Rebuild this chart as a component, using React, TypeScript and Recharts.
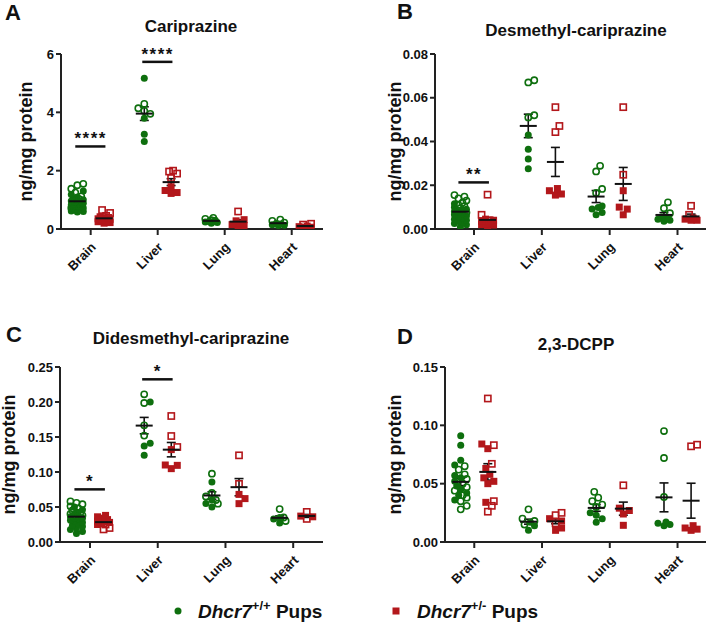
import React from "react";
import { ScatterChart, Scatter, XAxis, YAxis, ErrorBar, ReferenceLine, ReferenceDot } from "recharts";

const tissues = ["Brain", "Liver", "Lung", "Heart"];
const GREEN = "#0e6f0e";
const RED = "#b3171b";
const INK = "#111";
const FONT = "'Liberation Sans', Arial, Helvetica, sans-serif";

// A - Cariprazine (ng/mg protein), one list per tissue
const cariWtFilled = [
  [1.3, 1.18, 1.1, 1.05, 1.0, 0.96, 0.92, 0.88, 0.85, 0.82, 0.78, 0.75, 0.72, 0.68, 0.65, 0.62, 0.6, 0.58],
  [5.17, 3.8, 3.25, 3.0],
  [0.3, 0.27, 0.25, 0.24, 0.22, 0.2],
  [0.2, 0.17, 0.15, 0.13, 0.12],
];
const cariWtOpen = [
  [1.55, 1.5, 1.38, 1.25, 1.12, 1.02, 0.95, 0.88, 0.8, 0.72],
  [4.29, 4.14, 4.05, 3.95],
  [0.38, 0.35, 0.3],
  [0.32, 0.28, 0.22],
];
const cariHetFilled = [
  [0.42, 0.38, 0.35, 0.33, 0.3, 0.28, 0.25, 0.22, 0.2],
  [1.45, 1.32, 1.25, 1.22],
  [0.32, 0.28, 0.2, 0.15, 0.12, 0.1],
  [0.1, 0.08, 0.06, 0.05],
];
const cariHetOpen = [
  [0.65, 0.55, 0.45, 0.38],
  [2.0, 1.97, 1.9, 1.75],
  [0.6],
  [0.18, 0.15],
];
const cariTicks = [0, 2, 4, 6];
const cariSig = [
  { tissue: 1, y: 2.83, stars: "****" },
  { tissue: 2, y: 5.73, stars: "****" },
];

// B - Desmethyl-cariprazine
const desWtFilled = [
  [0.0115, 0.01, 0.009, 0.0085, 0.008, 0.0075, 0.007, 0.0065, 0.006, 0.0055, 0.005, 0.0045, 0.004, 0.0035, 0.003, 0.0025, 0.002, 0.001],
  [0.043, 0.0365, 0.032, 0.0275],
  [0.0105, 0.0098, 0.0092, 0.0075, 0.0065],
  [0.0055, 0.005, 0.0045, 0.004, 0.0035],
];
const desWtOpen = [
  [0.0155, 0.0148, 0.014, 0.013, 0.012, 0.011, 0.0105, 0.0095, 0.0085, 0.0075],
  [0.068, 0.067, 0.052, 0.051],
  [0.0289, 0.0263, 0.0183, 0.0165],
  [0.0122, 0.0095, 0.0072],
];
const desHetFilled = [
  [0.0045, 0.004, 0.0035, 0.003, 0.0028, 0.0025, 0.0022, 0.002, 0.0018, 0.0015],
  [0.0185, 0.0175, 0.016, 0.0155],
  [0.0175, 0.01, 0.0091, 0.0065],
  [0.005, 0.0045, 0.004, 0.004],
];
const desHetOpen = [
  [0.0157, 0.0065, 0.004],
  [0.0557, 0.0471, 0.0443],
  [0.0557, 0.0248],
  [0.0106, 0.0065],
];
const desTicks = [0, 0.02, 0.04, 0.06, 0.08];
const desSig = [{ tissue: 1, y: 0.0213, stars: "**" }];

// C - Didesmethyl-cariprazine
const didWtFilled = [
  [0.05, 0.046, 0.043, 0.04, 0.038, 0.036, 0.034, 0.033, 0.031, 0.03, 0.028, 0.026, 0.024, 0.022, 0.02, 0.018, 0.015, 0.012],
  [0.2, 0.141, 0.137, 0.124],
  [0.0857, 0.06, 0.055, 0.05],
  [0.035, 0.033, 0.027],
];
const didWtOpen = [
  [0.058, 0.056, 0.054, 0.051, 0.048, 0.045, 0.042, 0.04, 0.038, 0.035],
  [0.211, 0.1986, 0.1667, 0.152],
  [0.0976, 0.07, 0.065, 0.06, 0.0548],
  [0.047, 0.035, 0.03],
];
const didHetFilled = [
  [0.038, 0.036, 0.034, 0.032, 0.03, 0.029, 0.028, 0.026, 0.025],
  [0.132, 0.11, 0.1095, 0.1048],
  [0.068, 0.062, 0.0548],
  [0.037, 0.036],
];
const didHetOpen = [
  [0.025, 0.02, 0.018],
  [0.18, 0.1514, 0.1357],
  [0.1238, 0.083],
  [0.043, 0.033],
];
const didTicks = [0, 0.05, 0.1, 0.15, 0.2, 0.25];
const didSig = [
  { tissue: 1, y: 0.0752, stars: "*" },
  { tissue: 2, y: 0.2324, stars: "*" },
];

// D - 2,3-DCPP
const dcppWtFilled = [
  [0.091, 0.083, 0.07, 0.066, 0.057, 0.055, 0.052, 0.048, 0.045, 0.042, 0.04, 0.036],
  [0.017, 0.014, 0.01],
  [0.025, 0.023, 0.02, 0.017],
  [0.0171, 0.016, 0.015, 0.014],
];
const dcppWtOpen = [
  [0.065, 0.062, 0.058, 0.054, 0.05, 0.047, 0.044, 0.04, 0.038, 0.035, 0.031, 0.028],
  [0.028, 0.02, 0.018, 0.015],
  [0.043, 0.038, 0.035, 0.032, 0.03],
  [0.0951, 0.072, 0.0386],
];
const dcppHetFilled = [
  [0.084, 0.08, 0.063, 0.058, 0.055, 0.052, 0.05, 0.034],
  [0.02, 0.018, 0.012, 0.01],
  [0.029, 0.027, 0.024, 0.0143],
  [0.014, 0.012, 0.011, 0.01],
];
const dcppHetOpen = [
  [0.123, 0.083, 0.067, 0.035, 0.031, 0.026],
  [0.025, 0.023, 0.016],
  [0.0486],
  [0.0834, 0.082],
];
const dcppTicks = [0, 0.05, 0.1, 0.15];
const dcppSig: { tissue: number; y: number; stars: string }[] = [];

const PLOT_H = 175;
const X_AXIS_H = 56;
const CHART_H = 54 + PLOT_H + X_AXIS_H;

type Pt = { x: number; y: number; open: boolean };

// spread points of one column sideways so they don't sit on top of each other
function swarm(filled: number[], open: number[], center: number, pxX: number, pxY: number): Pt[] {
  const all = [
    ...filled.map((y) => ({ y, open: false })),
    ...open.map((y) => ({ y, open: true })),
  ].sort((a, b) => a.y - b.y);
  const placed: { dx: number; py: number }[] = [];
  const out: Pt[] = [];
  const offsets = [0, 2, -2, 4, -4, 6, -6];
  for (const v of all) {
    const py = v.y * pxY;
    let best = 0;
    let bestD = -1;
    for (const dx of offsets) {
      let minD = Infinity;
      for (const p of placed) minD = Math.min(minD, Math.hypot(p.dx - dx, p.py - py));
      if (minD >= 6.5) {
        best = dx;
        break;
      }
      if (minD > bestD) {
        bestD = minD;
        best = dx;
      }
    }
    placed.push({ dx: best, py });
    out.push({ x: center + best / pxX, y: v.y, open: v.open });
  }
  return out;
}

function meanSem(vals: number[]) {
  const n = vals.length;
  const m = vals.reduce((s, v) => s + v, 0) / n;
  const sd = Math.sqrt(vals.reduce((s, v) => s + (v - m) ** 2, 0) / (n - 1));
  return { m, sem: sd / Math.sqrt(n) };
}

const filledCircle = (p: any) => <circle cx={p.cx} cy={p.cy} r={3.5} fill={GREEN} />;
const openCircle = (p: any) => (
  <circle cx={p.cx} cy={p.cy} r={3.1} fill="none" stroke={GREEN} strokeWidth={1.6} />
);
const filledSquare = (p: any) => (
  <rect x={p.cx - 3.5} y={p.cy - 3.5} width={7} height={7} fill={RED} />
);
const openSquare = (p: any) => (
  <rect x={p.cx - 3.1} y={p.cy - 3.1} width={6.2} height={6.2} fill="none" stroke={RED} strokeWidth={1.6} />
);
const meanLine = (p: any) => (
  <line x1={p.cx - 8.5} x2={p.cx + 8.5} y1={p.cy} y2={p.cy} stroke={INK} strokeWidth={2} />
);
const starShape = (stars: string) => (p: any) => (
  <text
    x={p.cx}
    y={p.cy - 2}
    textAnchor="middle"
    fontSize={17}
    fontWeight={700}
    letterSpacing={1.5}
    fontFamily={FONT}
    fill={INK}
  >
    {stars}
  </text>
);

const XTick = (p: any) => {
  const { x, y, payload } = p;
  return (
    <g transform={`translate(${x + 6},${y + 11}) rotate(-45)`}>
      <text textAnchor="end" fontSize={13} fontWeight={700} fontFamily={FONT} fill={INK}>
        {tissues[payload.value - 1]}
      </text>
    </g>
  );
};

type PanelProps = {
  left: number;
  top: number;
  width: number;
  yAxisWidth: number;
  marginRight: number;
  xDomain: [number, number];
  yTicks: number[];
  decimals: number;
  wtFilled: number[][];
  wtOpen: number[][];
  hetFilled: number[][];
  hetOpen: number[][];
  sig: { tissue: number; y: number; stars: string }[];
};

function Panel(props: PanelProps) {
  const { left, top, width, yAxisWidth, marginRight, xDomain, yTicks, decimals } = props;
  const yMax = yTicks[yTicks.length - 1];
  const pxX = (width - yAxisWidth - marginRight) / (xDomain[1] - xDomain[0]);
  const pxY = PLOT_H / yMax;

  const wtPts: Pt[] = [];
  const hetPts: Pt[] = [];
  const means: { x: number; y: number; err: number }[] = [];
  tissues.forEach((_, i) => {
    const cat = i + 1;
    wtPts.push(...swarm(props.wtFilled[i], props.wtOpen[i], cat - 0.2, pxX, pxY));
    hetPts.push(...swarm(props.hetFilled[i], props.hetOpen[i], cat + 0.2, pxX, pxY));
    const a = meanSem([...props.wtFilled[i], ...props.wtOpen[i]]);
    const b = meanSem([...props.hetFilled[i], ...props.hetOpen[i]]);
    means.push({ x: cat - 0.2, y: a.m, err: a.sem });
    means.push({ x: cat + 0.2, y: b.m, err: b.sem });
  });

  return (
    <div style={{ position: "absolute", left, top }}>
      <ScatterChart
        width={width}
        height={CHART_H}
        margin={{ top: 54, right: marginRight, bottom: 0, left: 0 }}
      >
        <XAxis
          type="number"
          dataKey="x"
          domain={xDomain}
          ticks={[1, 2, 3, 4]}
          allowDataOverflow
          height={X_AXIS_H}
          tickSize={6}
          axisLine={{ stroke: "#222", strokeWidth: 2 }}
          tickLine={{ stroke: "#222", strokeWidth: 2 }}
          tick={<XTick />}
        />
        <YAxis
          type="number"
          dataKey="y"
          domain={[0, yMax]}
          ticks={yTicks}
          allowDataOverflow
          width={yAxisWidth}
          tickSize={5}
          tickFormatter={(v: number) => v.toFixed(decimals)}
          axisLine={{ stroke: "#222", strokeWidth: 2 }}
          tickLine={{ stroke: "#222", strokeWidth: 2 }}
          tick={{ fill: INK, fontSize: 13, fontWeight: 700, fontFamily: FONT }}
        />
        {props.sig.map((s, i) => (
          <ReferenceLine
            key={`l${i}`}
            segment={[
              { x: s.tissue - 0.23, y: s.y },
              { x: s.tissue + 0.22, y: s.y },
            ]}
            stroke={INK}
            strokeWidth={2.5}
            ifOverflow="visible"
          />
        ))}
        {props.sig.map((s, i) => (
          <ReferenceDot
            key={`d${i}`}
            x={s.tissue}
            y={s.y}
            r={0}
            ifOverflow="visible"
            shape={starShape(s.stars)}
          />
        ))}
        <Scatter data={wtPts.filter((p) => !p.open)} shape={filledCircle} isAnimationActive={false} />
        <Scatter data={wtPts.filter((p) => p.open)} shape={openCircle} isAnimationActive={false} />
        <Scatter data={hetPts.filter((p) => !p.open)} shape={filledSquare} isAnimationActive={false} />
        <Scatter data={hetPts.filter((p) => p.open)} shape={openSquare} isAnimationActive={false} />
        <Scatter data={means} shape={meanLine} isAnimationActive={false}>
          <ErrorBar dataKey="err" direction="y" width={4.5} stroke={INK} strokeWidth={1.6} />
        </Scatter>
      </ScatterChart>
    </div>
  );
}

const titles = [
  { text: "Cariprazine", x: 191, y: 32 },
  { text: "Desmethyl-cariprazine", x: 576, y: 36 },
  { text: "Didesmethyl-cariprazine", x: 191, y: 344 },
  { text: "2,3-DCPP", x: 576, y: 350 },
];
const letters = [
  { text: "A", x: 5, y: 20 },
  { text: "B", x: 397, y: 19 },
  { text: "C", x: 6, y: 342 },
  { text: "D", x: 397, y: 344 },
];
const yLabels = [
  { x: 32, y: 141.5 },
  { x: 401, y: 141.5 },
  { x: 15, y: 454.5 },
  { x: 401, y: 454.5 },
];

export default function App() {
  return (
    <div
      style={{
        position: "absolute",
        left: 0,
        top: 0,
        width: 708,
        height: 628,
        background: "#fff",
        fontFamily: FONT,
      }}
    >
      <Panel
        left={0}
        top={0}
        width={340}
        yAxisWidth={61}
        marginRight={17}
        xDomain={[0.557, 4.467]}
        yTicks={cariTicks}
        decimals={0}
        wtFilled={cariWtFilled}
        wtOpen={cariWtOpen}
        hetFilled={cariHetFilled}
        hetOpen={cariHetOpen}
        sig={cariSig}
      />
      <Panel
        left={354}
        top={0}
        width={354}
        yAxisWidth={81}
        marginRight={2}
        xDomain={[0.425, 4.42]}
        yTicks={desTicks}
        decimals={2}
        wtFilled={desWtFilled}
        wtOpen={desWtOpen}
        hetFilled={desHetFilled}
        hetOpen={desHetOpen}
        sig={desSig}
      />
      <Panel
        left={0}
        top={313}
        width={340}
        yAxisWidth={60}
        marginRight={17}
        xDomain={[0.557, 4.44]}
        yTicks={didTicks}
        decimals={2}
        wtFilled={didWtFilled}
        wtOpen={didWtOpen}
        hetFilled={didHetFilled}
        hetOpen={didHetOpen}
        sig={didSig}
      />
      <Panel
        left={354}
        top={313}
        width={354}
        yAxisWidth={91}
        marginRight={2}
        xDomain={[0.568, 4.42]}
        yTicks={dcppTicks}
        decimals={2}
        wtFilled={dcppWtFilled}
        wtOpen={dcppWtOpen}
        hetFilled={dcppHetFilled}
        hetOpen={dcppHetOpen}
        sig={dcppSig}
      />
      <svg
        width={708}
        height={628}
        style={{ position: "absolute", left: 0, top: 0, pointerEvents: "none" }}
        fontFamily={FONT}
      >
        {titles.map((t) => (
          <text key={t.text} x={t.x} y={t.y} textAnchor="middle" fontSize={17} fontWeight={700} fill={INK}>
            {t.text}
          </text>
        ))}
        {letters.map((t) => (
          <text key={t.text} x={t.x} y={t.y} fontSize={22} fontWeight={700} fill={INK}>
            {t.text}
          </text>
        ))}
        {yLabels.map((t, i) => (
          <text
            key={i}
            x={t.x}
            y={t.y}
            transform={`rotate(-90 ${t.x} ${t.y})`}
            textAnchor="middle"
            fontSize={18}
            fontWeight={700}
            fill={INK}
          >
            ng/mg protein
          </text>
        ))}
        <circle cx={178} cy={611} r={3.5} fill={GREEN} />
        <text x={198} y={618} fontSize={19} fontWeight={700} fill={INK}>
          <tspan fontStyle="italic">Dhcr7</tspan>
          <tspan fontSize={13} dy={-8}>+/+</tspan>
          <tspan dy={8}> Pups</tspan>
        </text>
        <rect x={392.5} y={607.5} width={7} height={7} fill={RED} />
        <text x={417} y={618} fontSize={19} fontWeight={700} fill={INK}>
          <tspan fontStyle="italic">Dhcr7</tspan>
          <tspan fontSize={13} dy={-8}>+/-</tspan>
          <tspan dy={8}> Pups</tspan>
        </text>
      </svg>
    </div>
  );
}
